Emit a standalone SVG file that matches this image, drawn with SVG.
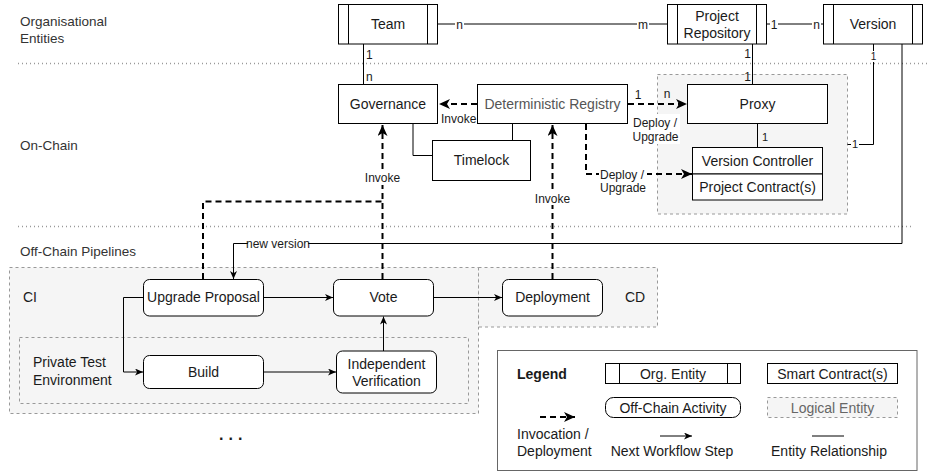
<svg xmlns="http://www.w3.org/2000/svg" width="934" height="473" viewBox="0 0 934 473">
<style>
text{font-family:"Liberation Sans",Arial,Helvetica,sans-serif;fill:#1a1a1a}
.m{text-anchor:middle}
.f14{font-size:14px}
.f12{font-size:12px}
.f11{font-size:11px}
.f10{font-size:10px}
.sec{font-size:13.5px;fill:#333}
.box{fill:#fff;stroke:#000;stroke-width:1}
.logical{fill:#f5f5f5;stroke:#999;stroke-width:1;stroke-dasharray:3 3}
.sep{stroke:#999;stroke-width:1.3;stroke-dasharray:1 3;fill:none}
.rel{stroke:#000;stroke-width:1;fill:none}
.flow{stroke:#000;stroke-width:1;fill:none;marker-end:url(#as)}
.inv{stroke:#000;stroke-width:2;stroke-dasharray:6 4;fill:none}
.inva{marker-end:url(#ad)}
.bg{fill:#fff;stroke:none}
.gray{fill:#555}
</style>
<defs>
<marker id="ad" markerUnits="userSpaceOnUse" viewBox="0 0 12 10" markerWidth="12" markerHeight="10" refX="11" refY="5" orient="auto"><path d="M0,0 L11,5 L0,10 L3,5 Z" fill="#000"/></marker>
<marker id="as" markerUnits="userSpaceOnUse" viewBox="0 0 8 7" markerWidth="8" markerHeight="7" refX="8" refY="3.5" orient="auto"><path d="M0,0 L8,3.5 L0,7 L2.2,3.5 Z" fill="#000"/></marker>
</defs>
<rect width="934" height="473" fill="#fff"/>

<g id="sections">
<text class="sec" x="20" y="26">Organisational</text>
<text class="sec" x="20" y="43">Entities</text>
<text class="sec" x="20" y="150">On-Chain</text>
<text class="sec" x="20" y="256">Off-Chain Pipelines</text>
<path class="sep" d="M18,63.5 H930"/>
<path class="sep" d="M18,226.5 H912"/>
</g>

<g id="logical-areas">
<rect id="ci" class="logical" x="9.5" y="267.5" width="469" height="146"/>
<rect id="cd" class="logical" x="478.5" y="267.5" width="179" height="59.5"/>
<rect id="private-test-env" class="logical" x="19.5" y="337.5" width="449" height="66"/>
<rect id="proxy-area" class="logical" x="657.5" y="74.5" width="190" height="139.5"/>
<text class="f14" x="23" y="302">CI</text>
<text class="f14 m" x="635" y="302">CD</text>
<text class="f14" x="33" y="367">Private Test</text>
<text class="f14" x="33" y="385">Environment</text>
</g>

<g id="connectors">
<path class="rel" d="M438,24 H667"/>
<path class="rel" d="M767,24 H823"/>
<path class="rel" d="M363.5,44 V84"/>
<path class="rel" d="M752.5,44 V84"/>
<path class="rel" d="M873.5,44 V144.5 H847.5"/>
<path class="flow" d="M902,44 V243.5 H233.5 V279"/>
<path class="rel" d="M413,124 V155.5 H432"/>
<path class="rel" d="M512.5,124 V140"/>
<path class="rel" d="M757.5,124 V147.5"/>
<path class="inv inva" d="M477,104 H439"/>
<path class="inv inva" d="M628,104 H687"/>
<path class="inv inva" d="M586,124 V174 H692"/>
<path class="inv inva" d="M382.5,279 V125"/>
<path class="inv" d="M203,279 V201.5 H382.5"/>
<path class="inv inva" d="M552.5,279 V125"/>
<path class="flow" d="M263,297.5 H333"/>
<path class="flow" d="M433,297.5 H502"/>
<path class="flow" d="M143,297.5 H123.5 V372 H143"/>
<path class="flow" d="M263,372 H336"/>
<path class="flow" d="M383.5,351 V316.5"/>

<rect class="bg" x="455" y="17" width="9" height="14"/>
<text class="f12 m" x="459.5" y="28.5">n</text>
<rect class="bg" x="637" y="17" width="12" height="14"/>
<text class="f12 m" x="643" y="28.5">m</text>
<rect class="bg" x="770" y="17" width="8" height="14"/>
<text class="f12 m" x="774" y="28.5">1</text>
<rect class="bg" x="812" y="17" width="9" height="14"/>
<text class="f12 m" x="816.5" y="28.5">n</text>
<text class="f12" x="366" y="58.5">1</text>
<text class="f12" x="366" y="80.5">n</text>
<text class="f12" x="751" y="57.5" text-anchor="end">1</text>
<text class="f12" x="751" y="80.5" text-anchor="end">1</text>
<rect class="bg" x="870" y="51" width="7" height="11"/>
<text class="f10 m" x="873.5" y="59.5">1</text>
<rect class="bg" x="851" y="138" width="8" height="13"/>
<text class="f11 m" x="855" y="148">1</text>
<text class="f11" x="762" y="141">1</text>
<rect class="bg" x="248" y="236" width="60" height="14"/>
<text class="f12 m" x="278" y="247.5">new version</text>
<text class="f12 m" x="458.7" y="122.5">Invoke</text>
<text class="f12 m" x="638" y="99">1</text>
<text class="f12 m" x="667" y="98">n</text>
<rect class="bg" x="632" y="114" width="48" height="30"/>
<text class="f12 m" x="655" y="126.5">Deploy /</text>
<text class="f12 m" x="655.5" y="141">Upgrade</text>
<rect class="bg" x="599" y="166" width="48" height="30"/>
<text class="f12 m" x="622" y="178.5">Deploy /</text>
<text class="f12 m" x="623" y="192">Upgrade</text>
<rect class="bg" x="364" y="170" width="37" height="15"/>
<text class="f12 m" x="382.5" y="182">Invoke</text>
<rect class="bg" x="534" y="190" width="37" height="15"/>
<text class="f12 m" x="552.5" y="202.5">Invoke</text>
</g>

<g id="team">
<rect class="box" x="338.5" y="4.5" width="99" height="39.5"/>
<path class="rel" d="M348.5,4.5 V44 M427.5,4.5 V44"/>
<text class="f14 m" x="388" y="29">Team</text>
</g>
<g id="project-repository">
<rect class="box" x="667.5" y="4.5" width="99" height="39.5"/>
<path class="rel" d="M677.5,4.5 V44 M756.5,4.5 V44"/>
<text class="f14 m" x="717" y="21">Project</text>
<text class="f14 m" x="717" y="38">Repository</text>
</g>
<g id="version">
<rect class="box" x="823.5" y="4.5" width="99" height="39.5"/>
<path class="rel" d="M833.5,4.5 V44 M912.5,4.5 V44"/>
<text class="f14 m" x="873" y="29">Version</text>
</g>

<g id="governance">
<rect class="box" x="338.5" y="84.5" width="99" height="39"/>
<text class="f14 m" x="388" y="109">Governance</text>
</g>
<g id="deterministic-registry">
<rect class="box" x="477.5" y="84.5" width="150" height="39"/>
<text class="f14 m gray" x="552.5" y="109">Deterministic Registry</text>
</g>
<g id="timelock">
<rect class="box" x="432.5" y="140.5" width="98" height="40"/>
<text class="f14 m" x="481.5" y="165">Timelock</text>
</g>
<g id="proxy">
<rect class="box" x="687.5" y="84.5" width="140" height="39"/>
<text class="f14 m" x="757.5" y="109">Proxy</text>
</g>
<g id="version-controller">
<rect class="box" x="692.5" y="147.5" width="130" height="26.5"/>
<text class="f14 m" x="757.5" y="166">Version Controller</text>
</g>
<g id="project-contracts">
<rect class="box" x="692.5" y="174" width="130" height="26"/>
<text class="f14 m" x="757.5" y="192">Project Contract(s)</text>
</g>

<g id="upgrade-proposal">
<rect class="box" x="143.5" y="279.5" width="120" height="36.5" rx="6"/>
<text class="f14 m" x="203.5" y="302">Upgrade Proposal</text>
</g>
<g id="vote">
<rect class="box" x="333.5" y="279.5" width="100" height="36.5" rx="6"/>
<text class="f14 m" x="383.5" y="302">Vote</text>
</g>
<g id="deployment">
<rect class="box" x="502.5" y="279.5" width="100" height="36.5" rx="6"/>
<text class="f14 m" x="552.5" y="302">Deployment</text>
</g>
<g id="build">
<rect class="box" x="143.5" y="355.5" width="120" height="33" rx="6"/>
<text class="f14 m" x="203.5" y="377">Build</text>
</g>
<g id="independent-verification">
<rect class="box" x="336.5" y="351" width="100" height="42" rx="6"/>
<text class="f14 m" x="386.5" y="369">Independent</text>
<text class="f14 m" x="386.5" y="386">Verification</text>
</g>

<g id="ellipsis">
<text x="219" y="440" style="font-size:16px;font-weight:bold;letter-spacing:5px">...</text>
</g>

<g id="legend">
<rect x="497.5" y="350.5" width="419.5" height="120" fill="#fff" stroke="#666" stroke-width="1"/>
<text class="f14" x="517" y="379" style="font-weight:bold">Legend</text>
<rect class="box" x="605.5" y="363.5" width="135" height="20"/>
<path class="rel" d="M619.5,363.5 V383.5 M727.5,363.5 V383.5"/>
<text class="f14 m" x="673" y="378.5">Org. Entity</text>
<rect class="box" x="767.5" y="363.5" width="130" height="20"/>
<text class="f14 m" x="832.5" y="378.5">Smart Contract(s)</text>
<rect class="box" x="605.5" y="397.5" width="135" height="20" rx="8"/>
<text class="f14 m" x="673" y="412.5">Off-Chain Activity</text>
<rect class="logical" x="767.5" y="397.5" width="130" height="20"/>
<text class="f14 m" x="832.5" y="412.5" style="fill:#666">Logical Entity</text>
<path class="inv inva" d="M540,417 H575"/>
<text class="f14" x="517" y="439">Invocation /</text>
<text class="f14" x="517" y="456">Deployment</text>
<path class="flow" d="M660,436 H692"/>
<text class="f14 m" x="672" y="456">Next Workflow Step</text>
<path class="rel" d="M812,436 H844"/>
<text class="f14 m" x="829" y="456">Entity Relationship</text>
</g>
</svg>
